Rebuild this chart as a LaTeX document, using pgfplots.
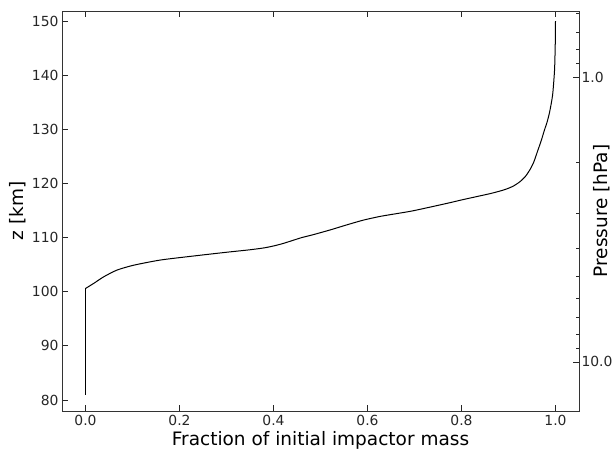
\documentclass[border=0pt]{standalone}
\usepackage{fontspec}
\setmainfont{DejaVu Sans}
\usepackage{pgfplots}
\pgfplotsset{compat=1.18}
\begin{document}
\begin{tikzpicture}
\begin{axis}[
 scale only axis, width=517pt, height=400pt,
 at={(0,0)}, anchor=south west,
 xmin=-0.05, xmax=1.05, ymin=77.97, ymax=151.85,
 xtick={0,0.2,0.4,0.6,0.8,1.0}, xticklabels={0.0,0.2,0.4,0.6,0.8,1.0},
 ytick={80,90,100,110,120,130,140,150}, yticklabels={80,90,100,110,120,130,140,150},
 tick align=inside, xtick pos=both, ytick pos=left,
 major tick length=6pt,
 tick style={black!85, line width=0.8pt},
 axis line style={black!80, line width=0.9pt},
 tick label style={font=\fontsize{13.9}{16}\selectfont, text=black!85},
 xticklabel shift=1pt,
 xlabel={Fraction of initial impactor mass}, ylabel={z [km]},
 every axis x label/.style={at={(axis description cs:0.5,-0.08625)}, anchor=base, font=\fontsize{18.5}{22}\selectfont},
 every axis y label/.style={at={(axis description cs:-0.0754,0.5)}, rotate=90, anchor=base, font=\fontsize{18.5}{22}\selectfont},
]
\addplot[black, line width=1pt] coordinates {(0,81) (0,100.6)};
\addplot[black, line width=1pt, smooth, tension=0.4] coordinates {
(0,100.6) (0.0176,101.55) (0.039,102.77) (0.067,104.0) (0.1025,104.9)
(0.159,105.85) (0.230,106.6) (0.301,107.3) (0.35,107.75) (0.38,108.1) (0.40,108.45)
(0.42,108.9) (0.44,109.45) (0.46,110.0) (0.485,110.55) (0.52,111.4) (0.556,112.35)
(0.59,113.2) (0.626,113.9) (0.66,114.4) (0.697,114.95) (0.768,116.3) (0.80,116.95)
(0.839,117.7) (0.86,118.1) (0.88,118.55) (0.895,118.95) (0.91,119.5) (0.924,120.3)
(0.936,121.3) (0.946,122.6) (0.954,124.0) (0.962,126.0)
(0.9696,127.9) (0.9766,129.9) (0.982,131.3) (0.987,133.0) (0.991,134.8) (0.9943,136.7)
(0.998,141.0) (0.9995,145.9) (1.0,150)
};
\end{axis}
\begin{axis}[
 scale only axis, width=517pt, height=400pt,
 at={(0,0)}, anchor=south west,
 hide x axis,
 xmin=-0.05, xmax=1.05,
 ymode=log, y dir=reverse, ymin=0.587, ymax=14.87,
 ytick={1,10}, yticklabels={1.0,10.0},
 minor ytick={0.6,0.7,0.8,0.9,2,3,4,5,6,7,8,9},
 ytick pos=right, tick align=inside,
 major tick length=6pt, minor tick length=3.5pt,
 tick style={black!85, line width=0.8pt},
 axis line style={black!80, line width=0.9pt},
 tick label style={font=\fontsize{13.9}{16}\selectfont, text=black!85},
 yticklabel style={xshift=-1pt},
 ylabel={Pressure [hPa]},
 every axis y label/.style={at={(axis description cs:1.0555,0.5)}, rotate=90, anchor=base, font=\fontsize{18.5}{22}\selectfont},
]
\end{axis}
\pgfresetboundingbox
\path[use as bounding box] (-62pt,-40pt) rectangle (551pt,411pt);
\end{tikzpicture}
\end{document}
